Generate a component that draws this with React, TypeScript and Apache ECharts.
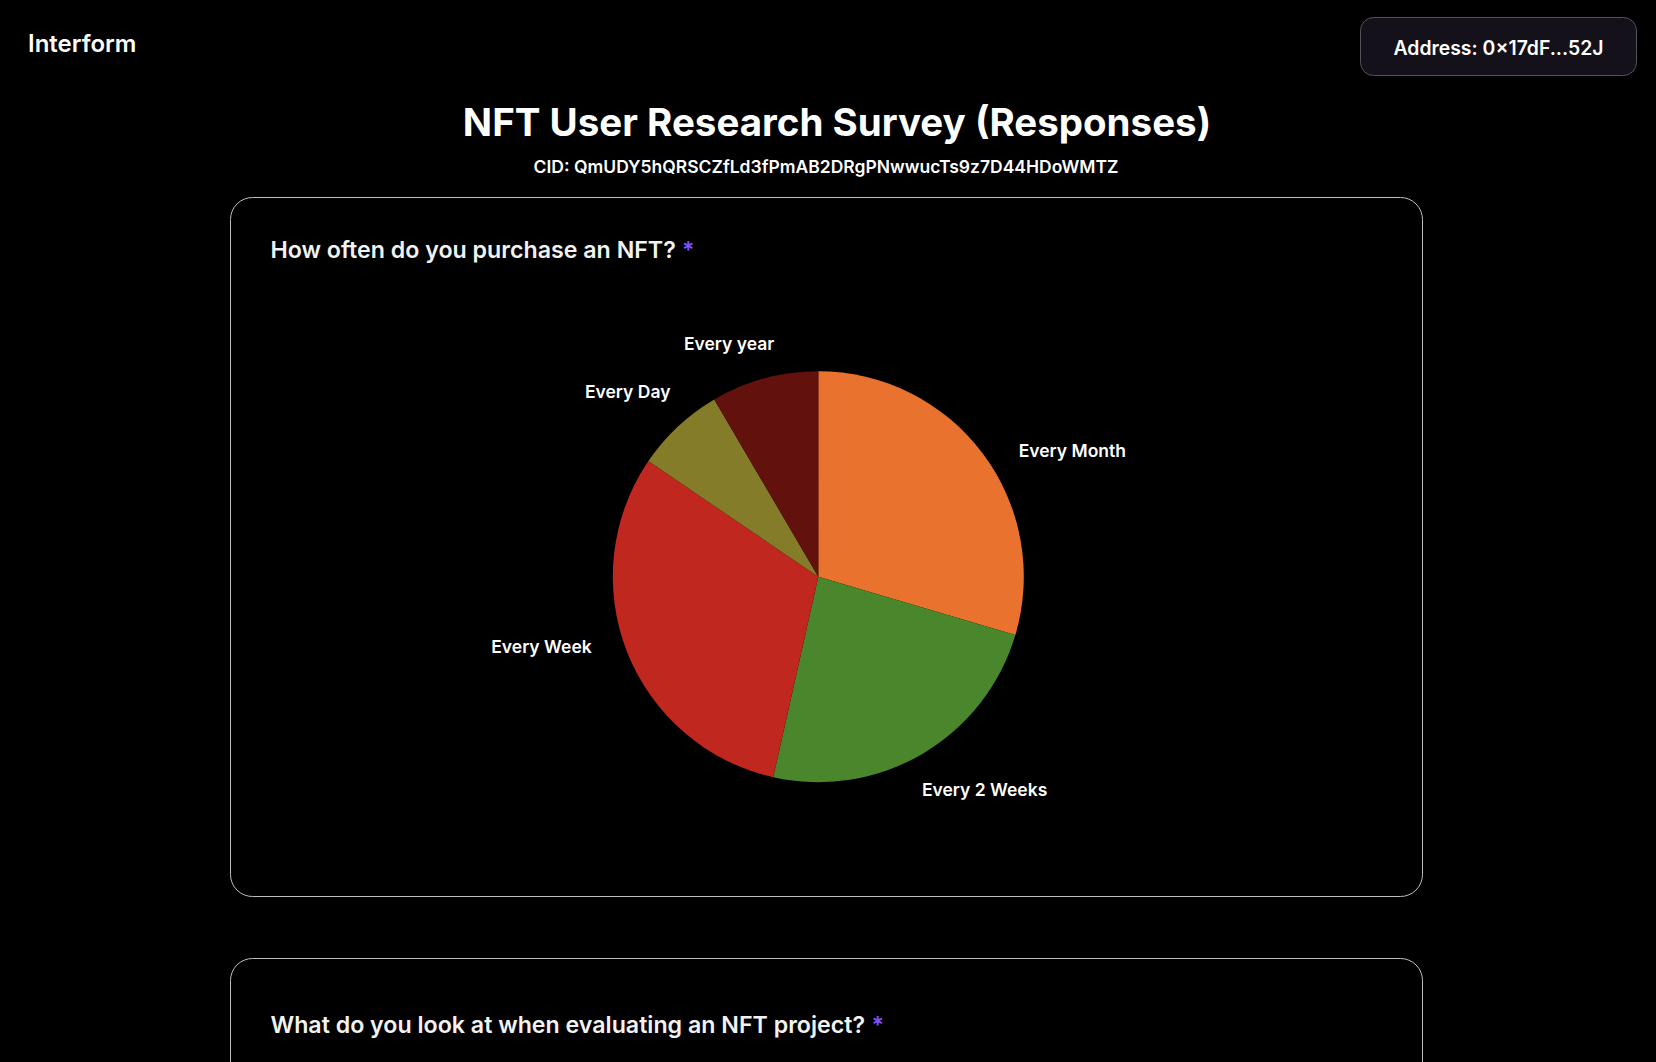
import React, { useEffect, useRef } from "react";
import * as echarts from "echarts";

const categories = ["Every Month", "Every 2 Weeks", "Every Week", "Every Day", "Every year"];
const responses = [21, 17, 22, 5, 6];
const sliceColors = ["#E9722F", "#4A862C", "#C0271F", "#857C2A", "#63110C"];

const pageTitle = "NFT User Research Survey (Responses)";
const cidText = "CID: QmUDY5hQRSCZfLd3fPmAB2DRgPNwwucTs9z7D44HDoWMTZ";
const brand = "Interform";
const addressText = "Address: 0×17dF...52J";
const question1 = "How often do you purchase an NFT?";
const question2 = "What do you look at when evaluating an NFT project?";

const FONT = "Inter, 'Noto Sans', sans-serif";
const PIE_CX = 818.3;
const PIE_CY = 576.7;
const PIE_R = 205.5;
const LABEL_R = 237;
const LABEL_ROTATE = 4.5;

export default function App() {
  const ref = useRef<HTMLDivElement>(null);

  useEffect(() => {
    document.body.style.margin = "0";
    document.body.style.background = "#000";
    if (!ref.current) return;
    const chart = echarts.init(ref.current, null, { renderer: "svg" });

    const total = responses.reduce((a, b) => a + b, 0);
    const midAngle = (i: number) => {
      let before = 0;
      for (let k = 0; k < i; k++) before += responses[k];
      return ((before + responses[i] / 2) / total) * 360;
    };

    const questionText = (q: string, x: number, y: number) => ({
      type: "text",
      x,
      y,
      style: {
        text: `{q|${q}} {a|*}`,
        verticalAlign: "middle",
        rich: {
          q: { fontFamily: FONT, fontSize: 23.2, fontWeight: 600, fill: "#f2f2f2", color: "#f2f2f2" },
          a: { fontFamily: FONT, fontSize: 23.2, fontWeight: 600, fill: "#7c52ff", color: "#7c52ff", padding: [0, 0, 0, 3] },
        },
      },
    });

    chart.setOption({
      animation: false,
      backgroundColor: "#000",
      graphic: [
        {
          type: "text",
          x: 28,
          y: 43,
          style: { text: brand, fill: "#fff", font: `600 24px ${FONT}`, verticalAlign: "middle" },
        },
        {
          type: "rect",
          shape: { x: 1360.5, y: 17.5, width: 276, height: 58, r: 13 },
          style: { fill: "#14111a", stroke: "#55525b", lineWidth: 1 },
        },
        {
          type: "text",
          x: 1498.5,
          y: 47.5,
          style: { text: addressText, fill: "#fff", font: `600 19.4px ${FONT}`, align: "center", verticalAlign: "middle" },
        },
        {
          type: "text",
          x: 837,
          y: 121.5,
          style: { text: pageTitle, fill: "#fff", font: `700 38.5px ${FONT}`, align: "center", verticalAlign: "middle" },
        },
        {
          type: "text",
          x: 826,
          y: 166,
          style: { text: cidText, fill: "#fff", font: `600 17.5px ${FONT}`, align: "center", verticalAlign: "middle" },
        },
        {
          type: "rect",
          shape: { x: 230.5, y: 197.5, width: 1192, height: 699, r: 22 },
          style: { fill: "none", stroke: "#bfbfbf", lineWidth: 1 },
        },
        questionText(question1, 270.5, 249.5),
        {
          type: "rect",
          shape: { x: 230.5, y: 958.5, width: 1192, height: 200, r: 22 },
          style: { fill: "none", stroke: "#bfbfbf", lineWidth: 1 },
        },
        questionText(question2, 270.5, 1025),
      ],
      series: [
        {
          type: "pie",
          center: [PIE_CX, PIE_CY],
          radius: PIE_R,
          startAngle: 90,
          clockwise: true,
          avoidLabelOverlap: false,
          silent: true,
          data: categories.map((name, i) => ({
            name,
            value: responses[i],
            itemStyle: { color: sliceColors[i] },
          })),
          label: {
            show: true,
            position: "outside",
            color: "#fff",
            fontFamily: FONT,
            fontSize: 17.5,
            fontWeight: 600,
            distanceToLabelLine: 0,
            formatter: "{b}",
          },
          labelLine: { show: false, length: 32, length2: 0 },
          labelLayout: (p: any) => {
            const a = ((midAngle(p.dataIndex) + LABEL_ROTATE) * Math.PI) / 180;
            const x = PIE_CX + LABEL_R * Math.sin(a);
            const y = PIE_CY - LABEL_R * Math.cos(a);
            return { x, y, align: x < PIE_CX ? "right" : "left", verticalAlign: "middle" };
          },
          emphasis: { disabled: true },
        },
      ],
    });

    return () => chart.dispose();
  }, []);

  return (
    <div
      ref={ref}
      style={{ position: "absolute", left: 0, top: 0, width: 1656, height: 1062, background: "#000" }}
    />
  );
}
